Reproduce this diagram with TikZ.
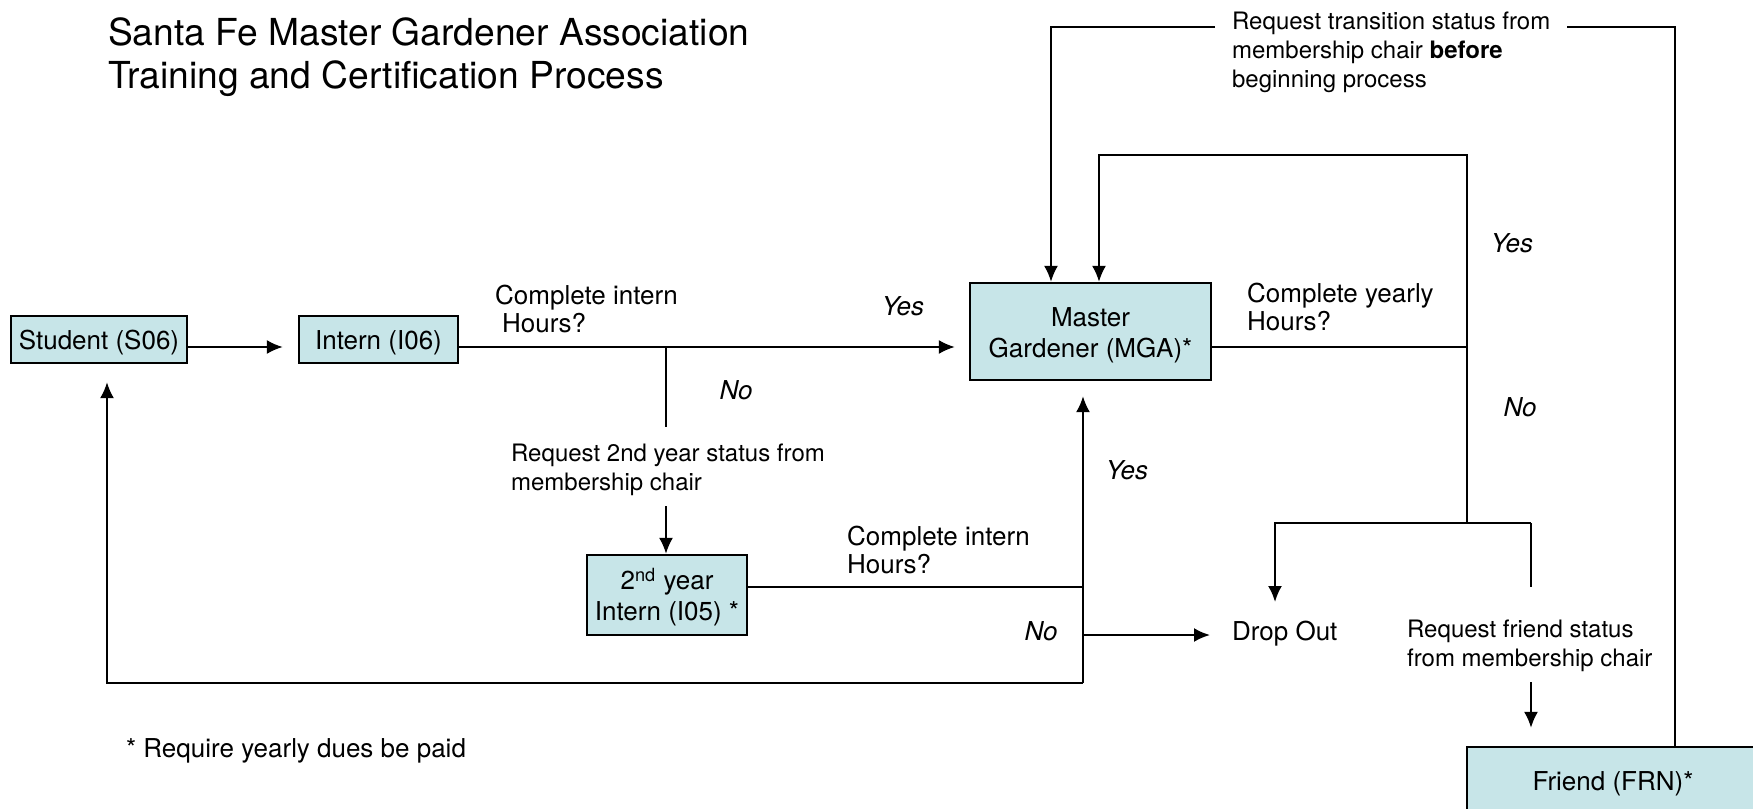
\documentclass[tikz,border=0pt]{standalone}
\usepackage{fontspec}
\setmainfont{TeX Gyre Heros}
\usetikzlibrary{arrows.meta}
\definecolor{boxfill}{RGB}{199,229,232}
\newcommand\boxstrut{\rule{0pt}{13pt}}
\begin{document}
\begin{tikzpicture}[x=0.5pt,y=-0.5pt,line width=1.1pt,
	box/.style={draw,fill=boxfill,inner sep=0,align=center,font=\fontsize{13}{15.5}\selectfont},
	txt/.style={inner sep=0,anchor=west,align=left,font=\fontsize{13}{14}\selectfont},
	note/.style={txt,font=\fontsize{12}{14.5}\selectfont},
	ans/.style={inner sep=0,anchor=base,font=\fontsize{13}{14}\selectfont\itshape},
	arr/.style={-{Latex[length=8pt,width=7pt]}}]
\useasboundingbox (0,0) rectangle (1753,809);
\clip (0,0) rectangle (1753,809);
\node[txt,font=\fontsize{18.6}{21.5}\selectfont] (title) at (107,57) {Santa Fe Master Gardener Association\\Training and Certification Process};
\node[box,minimum width=88pt,minimum height=23.5pt] (student) at (99,339.5) {\boxstrut Student (S06)};
\node[box,minimum width=79.5pt,minimum height=23.5pt] (intern) at (378.5,339.5) {\boxstrut Intern (I06)};
\node[box,minimum width=120.5pt,minimum height=48.5pt] (mga) at (1090.5,331.5) {\boxstrut Master\\Gardener (MGA)*};
\node[box,minimum width=80pt,minimum height=40pt] (yr2) at (667,595) {\boxstrut 2\textsuperscript{nd} year\\Intern (I05) *};
\node[box,draw=none,minimum width=146pt,minimum height=33pt] (friend) at (1613,780) {\boxstrut Friend (FRN)*};
\draw (1467,813) |- (1760,747);
\node[txt] (cih1) at (494,309) {Complete intern\\\hspace*{3.5pt}Hours?};
\node[txt] (cih2) at (846,550) {Complete intern\\Hours?};
\node[txt] (cyh) at (1246,307) {Complete yearly\\Hours?};
\node[note] (req2) at (510,470) {Request 2nd year status from\\membership chair};
\node[note] (reqf) at (1406,646) {Request friend status\\from membership chair};
\node[note,inner xsep=8pt] (trans) at (1215,52) {Request transition status from\\membership chair \textbf{before}\\beginning process};
\node[txt,anchor=base west] (drop) at (1231,640) {Drop Out};
\node[txt,anchor=base west] (dues) at (125,757) {* Require yearly dues be paid};
\node[ans] (yes1) at (903,315) {Yes};
\node[ans] (no1) at (736,399) {No};
\node[ans] (yes2) at (1127,479) {Yes};
\node[ans] (no2) at (1041,640) {No};
\node[ans] (yes3) at (1512,252) {Yes};
\node[ans] (no3) at (1520,416) {No};
\coordinate (j1) at (666,347);
\coordinate (y1) at (666,506);
\coordinate (j2) at (1083,587);
\coordinate (j3) at (1083,635);
\coordinate (j4) at (1083,683);
\coordinate (j5) at (1467,347);
\coordinate (j6) at (1467,155);
\coordinate (j7) at (1467,523);
\coordinate (d1) at (1275,523);
\coordinate (f1) at (1531,523);
\coordinate (f2) at (1531,682);
\coordinate (t1) at (1675,27);
\draw[arr,shorten >=7.5pt] (student.east |- j1) -- (intern.west |- j1);
\draw[arr,shorten >=7pt] (intern.east |- j1) -- (mga.west |- j1);
\draw (j1) -- ++(0,80);
\draw[arr] (y1) -- (yr2.north -| y1);
\draw (yr2.east |- j2) -- (j2);
\draw[arr,shorten >=7.5pt] (j4) -- (mga.south -| j4);
\draw[arr,shorten >=10.5pt] (j3) -- (drop.west |- j3);
\draw[arr,shorten >=9pt] (j4) -| ([xshift=4pt]student.south);
\draw (mga.east |- j5) -- (j5);
\draw[arr] (j7) -- (j6) -| ([xshift=4.25pt]mga.north);
\draw[arr] (f1) -- (d1) -- ++(0,79);
\draw (f1) -- ++(0,64);
\draw[arr,shorten >=9pt] (f2) -- (friend.north -| f2);
\draw (friend.north -| t1) -- (t1) -- (trans.east |- t1);
\draw[arr] (trans.west |- t1) -| ([xshift=-19.75pt]mga.north);
\end{tikzpicture}
\end{document}
